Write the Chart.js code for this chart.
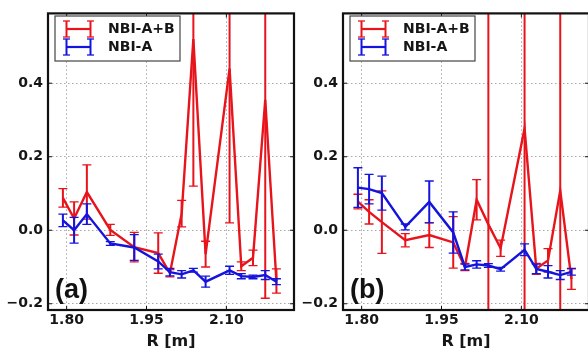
<!DOCTYPE html>
<html>
<head>
<meta charset="utf-8">
<script src="https://cdn.jsdelivr.net/npm/chart.js@4.4.0/dist/chart.umd.min.js"></script>
<style>
  html, body { margin: 0; padding: 0; background: #fff; overflow: hidden; }
  #wrap { position: relative; width: 588px; height: 356px; overflow: hidden; }
  .panel { position: absolute; top: 0; width: 300px; height: 356px; }
</style>
</head>
<body>
<div id="wrap">
  <div class="panel" style="left:0"><canvas id="panelA" width="300" height="356"></canvas></div>
  <div class="panel" style="left:295px"><canvas id="panelB" width="300" height="356"></canvas></div>
</div>
<script>
// major radius of each channel [m]
const radius = [1.793, 1.814, 1.838, 1.882, 1.927, 1.972, 1.994, 2.016, 2.038, 2.061, 2.106, 2.128, 2.150, 2.173, 2.194];
const xTicks = [1.80, 1.95, 2.10];
const yTicks = [-0.2, 0.0, 0.2, 0.4];
const seriesNames = ['NBI-A+B', 'NBI-A'];
const panelTags = ['(a)', '(b)'];

// panel (a)
const aBoth = [0.088, 0.032, 0.104, 0.001, -0.046, -0.062, -0.117, 0.045, 0.52, -0.065, 0.44, -0.098, -0.075, 0.355, -0.138];
const aBothErr = [0.025, 0.045, 0.074, 0.015, 0.04, 0.055, 0.01, 0.036, 0.40, 0.035, 0.42, 0.012, 0.021, 0.54, 0.033];
const aOnly = [0.027, 0.0, 0.044, -0.036, -0.047, -0.085, -0.114, -0.12, -0.109, -0.140, -0.109, -0.125, -0.127, -0.122, -0.140];
const aOnlyErr = [0.017, 0.035, 0.028, 0.005, 0.035, 0.02, 0.01, 0.01, 0.005, 0.015, 0.011, 0.007, 0.005, 0.012, 0.008];

// panel (b)
const bBoth = [0.078, 0.05, 0.022, -0.027, -0.013, -0.033, -0.100, 0.083, 0.016, -0.049, 0.277, -0.105, -0.082, 0.108, -0.133];
const bBothErr = [0.02, 0.033, 0.085, 0.018, 0.034, 0.07, 0.01, 0.055, 0.8, 0.022, 0.8, 0.015, 0.032, 0.8, 0.028];
const bOnly = [0.116, 0.112, 0.101, 0.009, 0.077, -0.006, -0.100, -0.093, -0.096, -0.106, -0.053, -0.105, -0.113, -0.122, -0.113];
const bOnlyErr = [0.054, 0.04, 0.046, 0.008, 0.057, 0.056, 0.008, 0.01, 0.005, 0.005, 0.016, 0.013, 0.017, 0.012, 0.009];

const RED = '#e8141c';
const BLUE = '#1414dc';

Chart.defaults.font.family = "'DejaVu Sans', sans-serif";
Chart.defaults.font.weight = 'bold';
Chart.defaults.color = '#161616';

function line(ctx, x1, y1, x2, y2) {
  ctx.beginPath();
  ctx.moveTo(x1, y1);
  ctx.lineTo(x2, y2);
  ctx.stroke();
}

// vertical error bars with caps, drawn just before each line
const errorBars = {
  id: 'errorBars',
  beforeDatasetDraw(chart, args) {
    const ds = chart.data.datasets[args.index];
    if (!ds.errors) return;
    const { ctx, chartArea, scales: { x, y } } = chart;
    ctx.save();
    ctx.beginPath();
    ctx.rect(chartArea.left, chartArea.top, chartArea.width, chartArea.height);
    ctx.clip();
    ctx.strokeStyle = ds.borderColor;
    ds.data.forEach((p, i) => {
      const px = x.getPixelForValue(p.x);
      const top = y.getPixelForValue(p.y + ds.errors[i]);
      const bot = y.getPixelForValue(p.y - ds.errors[i]);
      ctx.lineWidth = 2;
      line(ctx, px, top, px, bot);
      ctx.lineWidth = 1.3;
      line(ctx, px - 4.5, top, px + 4.5, top);
      line(ctx, px - 4.5, bot, px + 4.5, bot);
    });
    ctx.restore();
  }
};

// axes frame, inward ticks, legend box and panel tag
const decorations = {
  id: 'decorations',
  afterDraw(chart, args, opts) {
    const { ctx, chartArea: a, scales: { x, y } } = chart;
    ctx.save();
    ctx.strokeStyle = '#111';
    ctx.lineWidth = 1;
    xTicks.forEach(v => {
      const px = x.getPixelForValue(v);
      line(ctx, px, a.bottom, px, a.bottom - 4);
      line(ctx, px, a.top, px, a.top + 4);
    });
    yTicks.forEach(v => {
      const py = y.getPixelForValue(v);
      line(ctx, a.left, py, a.left + 4, py);
      line(ctx, a.right, py, a.right - 4, py);
    });
    ctx.lineWidth = 2.2;
    ctx.strokeRect(a.left, a.top, a.right - a.left, a.bottom - a.top);

    // legend
    const bx = a.left + 7, by = 16;
    ctx.fillStyle = '#fff';
    ctx.fillRect(bx, by, 125, 45);
    ctx.strokeStyle = '#444';
    ctx.lineWidth = 1.2;
    ctx.strokeRect(bx, by, 125, 45);
    const rows = [[RED, 13], [BLUE, 31]];
    rows.forEach(([color, dy], i) => {
      const cy = by + dy;
      ctx.strokeStyle = color;
      ctx.lineWidth = 2.2;
      line(ctx, bx + 11.5, cy, bx + 35.5, cy);
      [bx + 11.5, bx + 35.5].forEach(ex => {
        ctx.lineWidth = 2;
        line(ctx, ex, cy - 8, ex, cy + 8);
        ctx.lineWidth = 1.3;
        line(ctx, ex - 3.5, cy - 8, ex + 3.5, cy - 8);
        line(ctx, ex - 3.5, cy + 8, ex + 3.5, cy + 8);
      });
      ctx.fillStyle = '#161616';
      ctx.font = "bold 14px 'DejaVu Sans', sans-serif";
      ctx.textBaseline = 'middle';
      ctx.textAlign = 'left';
      ctx.fillText(seriesNames[i], bx + 53, cy);
    });

    // panel tag
    ctx.fillStyle = '#111';
    ctx.font = "bold 27px 'Liberation Sans', Arial, sans-serif";
    ctx.textBaseline = 'alphabetic';
    ctx.fillText(opts.tag, a.left + 7, 298);
    ctx.restore();
  }
};

function fmtY(v) {
  return v < 0 ? '\u2212' + Math.abs(v).toFixed(1) : v.toFixed(1);
}

function makePanel(canvasId, both, bothErr, only, onlyErr, tag) {
  const ctx = document.getElementById(canvasId).getContext('2d');
  return new Chart(ctx, {
    type: 'line',
    data: {
      datasets: [
        {
          label: seriesNames[0],
          data: radius.map((r, i) => ({ x: r, y: both[i] })),
          errors: bothErr,
          borderColor: RED,
          borderWidth: 2.4,
          pointRadius: 0,
          tension: 0,
          order: 2
        },
        {
          label: seriesNames[1],
          data: radius.map((r, i) => ({ x: r, y: only[i] })),
          errors: onlyErr,
          borderColor: BLUE,
          borderWidth: 2.4,
          pointRadius: 0,
          tension: 0,
          order: 1
        }
      ]
    },
    options: {
      responsive: false,
      animation: false,
      layout: { padding: { left: 0, right: 6, top: 8, bottom: 0 } },
      plugins: {
        legend: { display: false },
        tooltip: { enabled: false },
        decorations: { tag: tag }
      },
      scales: {
        x: {
          type: 'linear',
          min: 1.765,
          max: 2.227,
          afterBuildTicks: axis => { axis.ticks = xTicks.map(v => ({ value: v })); },
          afterFit: axis => { axis.height = 46; },
          ticks: {
            padding: 2,
            maxRotation: 0,
            autoSkip: false,
            font: { size: 14 },
            callback: v => v.toFixed(2)
          },
          grid: { color: '#a8a8a8', lineWidth: 1, drawTicks: false },
          border: { display: false, dash: [1.5, 2.5] },
          title: {
            display: true,
            text: 'R [m]',
            font: { size: 16 },
            padding: { top: 0, bottom: 5 }
          }
        },
        y: {
          type: 'linear',
          min: -0.217,
          max: 0.59,
          afterBuildTicks: axis => { axis.ticks = yTicks.map(v => ({ value: v })); },
          afterFit: axis => { axis.width = 48; },
          ticks: {
            padding: 5,
            font: { size: 14 },
            callback: v => fmtY(v)
          },
          grid: { color: '#a8a8a8', lineWidth: 1, drawTicks: false },
          border: { display: false, dash: [1.5, 2.5] }
        }
      }
    },
    plugins: [errorBars, decorations]
  });
}

makePanel('panelA', aBoth, aBothErr, aOnly, aOnlyErr, panelTags[0]);
makePanel('panelB', bBoth, bBothErr, bOnly, bOnlyErr, panelTags[1]);
</script>
</body>
</html>
